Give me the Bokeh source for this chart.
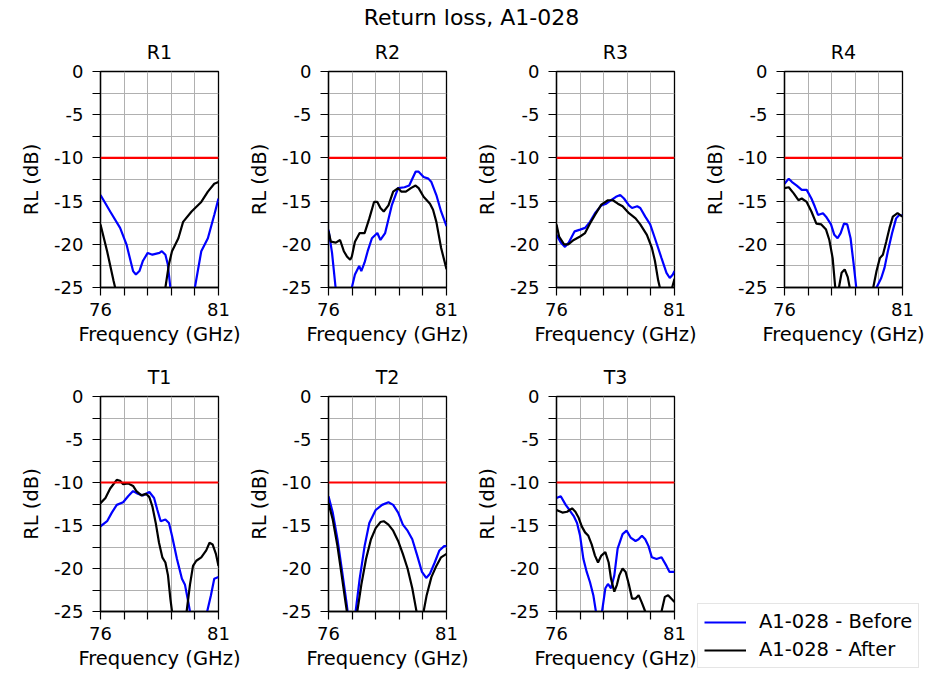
from bokeh.plotting import figure
from bokeh.layouts import column, row, Spacer
from bokeh.models import FixedTicker, Span, Legend, LegendItem, Label, Range1d
from bokeh.embed import file_html
from bokeh.resources import INLINE

FONT = "DejaVu Sans"
MAIN_TITLE = "Return loss, A1-028"
SERIES_LABELS = ["A1-028 - Before", "A1-028 - After"]
X_LABEL = "Frequency (GHz)"
Y_LABEL = "RL (dB)"
X_TICKS = [76, 81]
X_TICK_LABELS = ["76", "81"]
X_MINOR = [77, 78, 79, 80]
Y_TICKS = [0, -5, -10, -15, -20, -25]
Y_TICK_LABELS = ["0", "-5", "-10", "-15", "-20", "-25"]
Y_MINOR = [-2.5, -7.5, -12.5, -17.5, -22.5]
X_RANGE = (76, 81)
Y_RANGE = (-25, 0)
LIMIT_DB = -10

BLUE = "#0000ff"
BLACK = "#000000"
RED = "#ff0000"

# ---------------- data (frequency GHz, return loss dB) ----------------
R1_F_BEFORE = [76.0, 76.41, 76.83, 77.1, 77.38, 77.5, 77.65, 77.8, 78.0, 78.2, 78.5, 78.6, 78.75, 78.85, 78.96, 79.05, 79.95, 80.0, 80.27, 80.55, 80.82, 81.0]
R1_RL_BEFORE = [-14.3, -16.2, -18.1, -20.0, -23.1, -23.5, -23.1, -21.9, -21.0, -21.2, -21.0, -20.8, -21.2, -22.3, -25.0, -28, -28, -25.0, -20.8, -19.3, -16.6, -14.7]
R1_F_AFTER = [76.0, 76.28, 76.55, 76.62, 76.7, 78.68, 78.75, 78.9, 79.03, 79.3, 79.5, 79.86, 80.27, 80.55, 80.82, 81.0]
R1_RL_AFTER = [-17.7, -20.8, -24.2, -25.0, -28, -28, -25.0, -22.3, -20.8, -19.3, -17.4, -16.2, -15.1, -13.9, -13.0, -12.8]

R2_F_BEFORE = [76.0, 76.15, 76.3, 76.35, 76.95, 76.99, 77.12, 77.3, 77.39, 77.53, 77.66, 77.84, 78.07, 78.2, 78.4, 78.68, 78.95, 79.22, 79.42, 79.69, 79.82, 80.03, 80.23, 80.36, 80.57, 80.77, 81.0]
R2_RL_BEFORE = [-18.3, -21.0, -25.0, -28, -28, -25.0, -23.5, -22.5, -23.1, -22.1, -20.8, -19.3, -18.7, -19.5, -18.7, -15.5, -13.5, -13.4, -13.2, -11.6, -11.6, -12.2, -12.4, -12.8, -14.3, -16.2, -17.9]
R2_F_AFTER = [76.0, 76.1, 76.31, 76.49, 76.65, 76.78, 76.92, 76.99, 77.12, 77.32, 77.53, 77.73, 77.93, 78.07, 78.2, 78.34, 78.54, 78.74, 78.95, 79.08, 79.28, 79.49, 79.69, 79.82, 80.03, 80.3, 80.43, 80.57, 80.77, 81.0]
R2_RL_AFTER = [-18.5, -19.7, -19.8, -19.5, -20.8, -21.4, -21.8, -21.4, -19.7, -18.7, -18.7, -17.0, -15.1, -15.1, -15.8, -16.2, -15.5, -13.9, -13.5, -13.9, -13.9, -13.5, -13.2, -13.5, -14.5, -15.3, -16.0, -17.4, -20.4, -22.9]

R3_F_BEFORE = [76.0, 76.18, 76.36, 76.52, 76.77, 77.0, 77.21, 77.42, 77.63, 77.9, 78.11, 78.31, 78.52, 78.7, 78.86, 79.07, 79.2, 79.42, 79.55, 79.76, 79.97, 80.17, 80.45, 80.66, 80.8, 80.93, 81.0]
R3_RL_BEFORE = [-18.9, -19.8, -20.3, -19.8, -18.5, -18.3, -18.1, -17.4, -16.4, -15.5, -15.3, -14.9, -14.5, -14.3, -14.7, -15.5, -15.8, -15.6, -15.8, -16.8, -17.7, -19.3, -21.6, -23.3, -23.9, -23.5, -23.1]
R3_F_AFTER = [76.0, 76.11, 76.32, 76.5, 76.73, 77.0, 77.21, 77.42, 77.63, 77.9, 78.18, 78.39, 78.6, 78.8, 79.07, 79.35, 79.55, 79.83, 80.04, 80.17, 80.31, 80.38, 80.45, 80.85, 80.9, 81.0]
R3_RL_AFTER = [-17.7, -19.1, -20.0, -20.0, -19.5, -19.1, -18.7, -17.6, -16.6, -15.4, -14.9, -14.9, -15.3, -15.6, -16.4, -17.0, -17.7, -18.9, -20.4, -21.9, -24.2, -25.0, -27, -27, -25.0, -24.0]

R4_F_BEFORE = [76.0, 76.18, 76.32, 76.52, 76.73, 76.94, 77.14, 77.28, 77.42, 77.63, 77.76, 77.97, 78.11, 78.25, 78.38, 78.52, 78.66, 78.8, 78.93, 79.04, 79.1, 79.85, 79.9, 80.1, 80.24, 80.38, 80.56, 80.73, 80.86, 81.0]
R4_RL_BEFORE = [-13.0, -12.4, -12.8, -13.2, -13.7, -13.7, -14.7, -15.6, -16.6, -16.4, -16.8, -17.7, -18.9, -19.3, -18.7, -17.6, -17.7, -19.3, -22.3, -25.0, -28, -28, -25.0, -23.9, -22.7, -20.8, -18.7, -17.0, -16.6, -16.7]
R4_F_AFTER = [76.0, 76.18, 76.39, 76.59, 76.73, 76.94, 77.14, 77.35, 77.56, 77.76, 77.9, 78.04, 78.15, 78.22, 78.32, 78.42, 78.55, 78.68, 78.8, 78.9, 79.7, 79.76, 79.9, 80.04, 80.17, 80.31, 80.45, 80.59, 80.79, 81.0]
R4_RL_AFTER = [-13.5, -13.4, -14.1, -14.9, -14.7, -15.1, -16.2, -17.6, -17.7, -18.3, -19.5, -21.6, -25.0, -26.5, -24.8, -23.3, -22.9, -23.8, -25.5, -28, -28, -25.0, -23.1, -21.6, -21.2, -19.7, -18.1, -16.8, -16.4, -16.8]

T1_F_BEFORE = [76.0, 76.28, 76.48, 76.69, 76.96, 77.17, 77.38, 77.58, 77.79, 78.07, 78.27, 78.41, 78.55, 78.75, 78.9, 79.03, 79.24, 79.45, 79.58, 79.72, 79.79, 79.85, 80.45, 80.52, 80.68, 80.82, 81.0]
T1_RL_BEFORE = [-15.1, -14.5, -13.5, -12.6, -12.3, -11.6, -11.0, -11.3, -11.5, -11.1, -11.8, -13.2, -14.5, -14.3, -14.7, -16.2, -18.9, -21.2, -21.9, -23.9, -25.0, -27, -27, -25.0, -23.1, -21.2, -21.0]
T1_F_AFTER = [76.0, 76.21, 76.41, 76.69, 76.83, 76.96, 77.17, 77.38, 77.52, 77.73, 77.93, 78.07, 78.2, 78.34, 78.48, 78.62, 78.75, 78.86, 78.96, 79.03, 79.1, 79.6, 79.65, 79.79, 79.92, 80.06, 80.27, 80.48, 80.62, 80.75, 80.89, 81.0]
T1_RL_AFTER = [-12.4, -11.8, -10.7, -9.7, -9.8, -10.2, -10.1, -10.4, -11.0, -11.5, -11.3, -11.7, -12.8, -14.7, -17.0, -18.7, -19.3, -20.8, -23.5, -25.0, -27, -27, -25.0, -21.9, -19.7, -19.1, -18.7, -17.9, -17.0, -17.2, -18.3, -19.7]

T2_F_BEFORE = [76.0, 76.18, 76.38, 76.58, 76.76, 76.81, 76.86, 77.1, 77.15, 77.32, 77.53, 77.73, 78.0, 78.27, 78.54, 78.74, 78.95, 79.15, 79.35, 79.55, 79.76, 79.96, 80.14, 80.3, 80.5, 80.7, 80.9, 81.0]
T2_RL_BEFORE = [-11.6, -13.5, -16.6, -20.4, -23.9, -25.0, -28, -28, -25.0, -21.2, -17.4, -14.7, -13.2, -12.6, -12.3, -12.6, -13.5, -14.9, -15.6, -16.6, -18.5, -20.4, -21.1, -20.6, -19.3, -17.9, -17.4, -17.4]
T2_F_AFTER = [76.0, 76.18, 76.38, 76.58, 76.72, 76.78, 76.85, 77.15, 77.22, 77.39, 77.59, 77.8, 78.0, 78.2, 78.34, 78.54, 78.74, 78.95, 79.15, 79.35, 79.55, 79.69, 79.73, 79.78, 79.98, 80.03, 80.16, 80.36, 80.57, 80.77, 81.0]
T2_RL_AFTER = [-12.4, -14.3, -17.4, -21.2, -23.9, -25.0, -28, -28, -25.0, -21.9, -18.9, -16.6, -15.3, -14.6, -14.5, -14.9, -15.6, -16.8, -18.3, -20.0, -22.3, -24.4, -25.0, -27, -27, -25.0, -23.1, -21.0, -19.7, -18.7, -18.3]

T3_F_BEFORE = [76.0, 76.18, 76.39, 76.55, 76.73, 76.87, 77.0, 77.14, 77.28, 77.42, 77.56, 77.67, 77.72, 77.88, 77.93, 78.07, 78.18, 78.31, 78.45, 78.59, 78.8, 78.97, 79.14, 79.35, 79.48, 79.62, 79.76, 79.9, 80.04, 80.24, 80.45, 80.66, 80.79, 81.0]
T3_RL_BEFORE = [-11.8, -11.6, -12.6, -13.2, -13.9, -14.7, -16.2, -18.9, -20.4, -21.6, -23.1, -25.0, -27, -27, -25.0, -22.3, -21.8, -22.3, -20.8, -17.7, -16.0, -15.6, -16.4, -16.8, -16.6, -16.2, -16.6, -17.4, -18.7, -18.9, -18.7, -19.7, -20.4, -20.4]
T3_F_AFTER = [76.0, 76.25, 76.45, 76.66, 76.8, 76.94, 77.07, 77.21, 77.35, 77.49, 77.63, 77.76, 77.9, 78.07, 78.21, 78.31, 78.45, 78.56, 78.66, 78.8, 78.93, 79.07, 79.2, 79.35, 79.48, 79.62, 79.76, 79.8, 80.4, 80.45, 80.59, 80.73, 80.86, 81.0]
T3_RL_AFTER = [-13.2, -13.5, -13.4, -13.0, -13.4, -14.1, -15.1, -15.8, -16.2, -17.2, -18.5, -19.3, -18.5, -18.1, -19.3, -21.2, -22.7, -21.9, -20.8, -20.0, -20.4, -21.9, -23.5, -23.5, -23.1, -24.0, -25.0, -26.5, -26.5, -25.0, -23.3, -23.1, -23.5, -23.9]

PANELS = [
    ("R1", R1_F_BEFORE, R1_RL_BEFORE, R1_F_AFTER, R1_RL_AFTER),
    ("R2", R2_F_BEFORE, R2_RL_BEFORE, R2_F_AFTER, R2_RL_AFTER),
    ("R3", R3_F_BEFORE, R3_RL_BEFORE, R3_F_AFTER, R3_RL_AFTER),
    ("R4", R4_F_BEFORE, R4_RL_BEFORE, R4_F_AFTER, R4_RL_AFTER),
    ("T1", T1_F_BEFORE, T1_RL_BEFORE, T1_F_AFTER, T1_RL_AFTER),
    ("T2", T2_F_BEFORE, T2_RL_BEFORE, T2_F_AFTER, T2_RL_AFTER),
    ("T3", T3_F_BEFORE, T3_RL_BEFORE, T3_F_AFTER, T3_RL_AFTER),
]

TOTAL_W = 930
TITLE_H = 30
LEAD = 17
BORDER_L = 80
BORDER_R = 27
BORDER_T = 40
FRAME_W = 121
LINE_W = 2.2


def make_panel(name, fb, rb, fa, ra, height, bottom, right=BORDER_R):
    p = figure(width=BORDER_L + FRAME_W + right, height=height,
               x_range=Range1d(*X_RANGE), y_range=Range1d(*Y_RANGE),
               output_backend="svg", toolbar_location=None, title=name,
               min_border_left=BORDER_L, min_border_right=right,
               min_border_top=BORDER_T, min_border_bottom=bottom)
    p.title.align = "center"
    p.title.text_font = FONT
    p.title.text_font_size = "19px"
    p.title.text_font_style = "normal"
    p.title.text_color = "black"
    p.title.standoff = 17
    p.outline_line_color = "black"
    p.outline_line_width = 1.3
    p.outline_line_alpha = 1

    p.xaxis.ticker = FixedTicker(ticks=X_TICKS, minor_ticks=X_MINOR)
    p.yaxis.ticker = FixedTicker(ticks=Y_TICKS, minor_ticks=Y_MINOR)
    p.xaxis.major_label_overrides = dict(zip(X_TICKS, X_TICK_LABELS))
    p.yaxis.major_label_overrides = dict(zip(Y_TICKS, Y_TICK_LABELS))
    p.xgrid.ticker = FixedTicker(ticks=X_TICKS + X_MINOR)
    p.ygrid.ticker = FixedTicker(ticks=Y_TICKS + Y_MINOR)
    for g in (p.xgrid, p.ygrid):
        g.grid_line_color = "#b0b0b0"
        g.grid_line_width = 1
    for ax in (p.xaxis, p.yaxis):
        ax.axis_line_color = "black"
        ax.axis_line_width = 1.3
        ax.major_tick_line_color = "black"
        ax.minor_tick_line_color = "black"
        ax.major_tick_line_width = 1.2
        ax.minor_tick_line_width = 1.2
        ax.major_tick_out = 8
        ax.major_tick_in = 0
        ax.minor_tick_out = 8
        ax.minor_tick_in = 0
        ax.major_label_text_font = FONT
        ax.major_label_text_font_size = "18px"
        ax.major_label_text_color = "black"
        ax.axis_label_text_font = FONT
        ax.axis_label_text_font_size = "19.5px"
        ax.axis_label_text_font_style = "normal"
        ax.axis_label_text_color = "black"
    p.xaxis.axis_label = X_LABEL
    p.yaxis.axis_label = Y_LABEL
    p.xaxis.major_label_standoff = 7
    p.xaxis.axis_label_standoff = 4
    p.yaxis.major_label_standoff = 9
    p.yaxis.axis_label_standoff = 8

    p.line(fb, rb, line_color=BLUE, line_width=LINE_W)
    p.line(fa, ra, line_color=BLACK, line_width=LINE_W)
    p.add_layout(Span(location=LIMIT_DB, dimension="width", line_color=RED, line_width=LINE_W))
    return p


ROW1_H = 325
ROW2_H = 318
row1 = [make_panel(*pn, height=ROW1_H, bottom=68) for pn in PANELS[:4]]
row2 = [make_panel(*pn, height=ROW2_H, bottom=62) for pn in PANELS[4:6]]
row2.append(make_panel(*PANELS[6], height=ROW2_H, bottom=62, right=23))

# legend cell (own column so its frame is not aligned with the panels)
used_w = LEAD + sum(f.width for f in row2)
lf = figure(width=TOTAL_W - used_w, height=ROW2_H, x_range=Range1d(0, 1), y_range=Range1d(0, 1),
            output_backend="svg", toolbar_location=None, title=None,
            min_border_left=0, min_border_right=0, min_border_top=0, min_border_bottom=0,
            x_axis_location=None, y_axis_location=None)
lf.grid.visible = False
lf.outline_line_color = None
NAN = float("nan")
leg_before = lf.line(x=[NAN], y=[NAN], line_color=BLUE, line_width=LINE_W)
leg_after = lf.line(x=[NAN], y=[NAN], line_color=BLACK, line_width=LINE_W)
legend = Legend(items=[LegendItem(label=SERIES_LABELS[0], renderers=[leg_before]),
                       LegendItem(label=SERIES_LABELS[1], renderers=[leg_after])],
                location=(0, 5))
legend.label_text_font = FONT
legend.label_text_font_size = "19.5px"
legend.label_text_color = "black"
legend.glyph_width = 42
legend.glyph_height = 20
legend.label_height = 20
legend.label_standoff = 13
legend.spacing = 5
legend.padding = 6
legend.margin = 0
legend.border_line_color = "#cccccc"
legend.border_line_width = 1
legend.background_fill_alpha = 0.8
lf.add_layout(legend)

# main title cell
tf = figure(width=TOTAL_W, height=TITLE_H, x_range=Range1d(0, TOTAL_W), y_range=Range1d(0, TITLE_H),
            output_backend="svg", toolbar_location=None, title=None,
            min_border_left=0, min_border_right=0, min_border_top=0, min_border_bottom=0,
            x_axis_location=None, y_axis_location=None)
tf.grid.visible = False
tf.outline_line_color = None
tf.add_layout(Label(x=471, y=TITLE_H - 17, text=MAIN_TITLE,
                    text_align="center", text_baseline="middle",
                    text_font=FONT, text_font_size="22px", text_color="black"))

layout = column(tf,
                row(Spacer(width=LEAD, height=10), *row1),
                row(Spacer(width=LEAD, height=10), *row2, column(lf)))

open("out.html", "w").write(file_html(layout, INLINE))
